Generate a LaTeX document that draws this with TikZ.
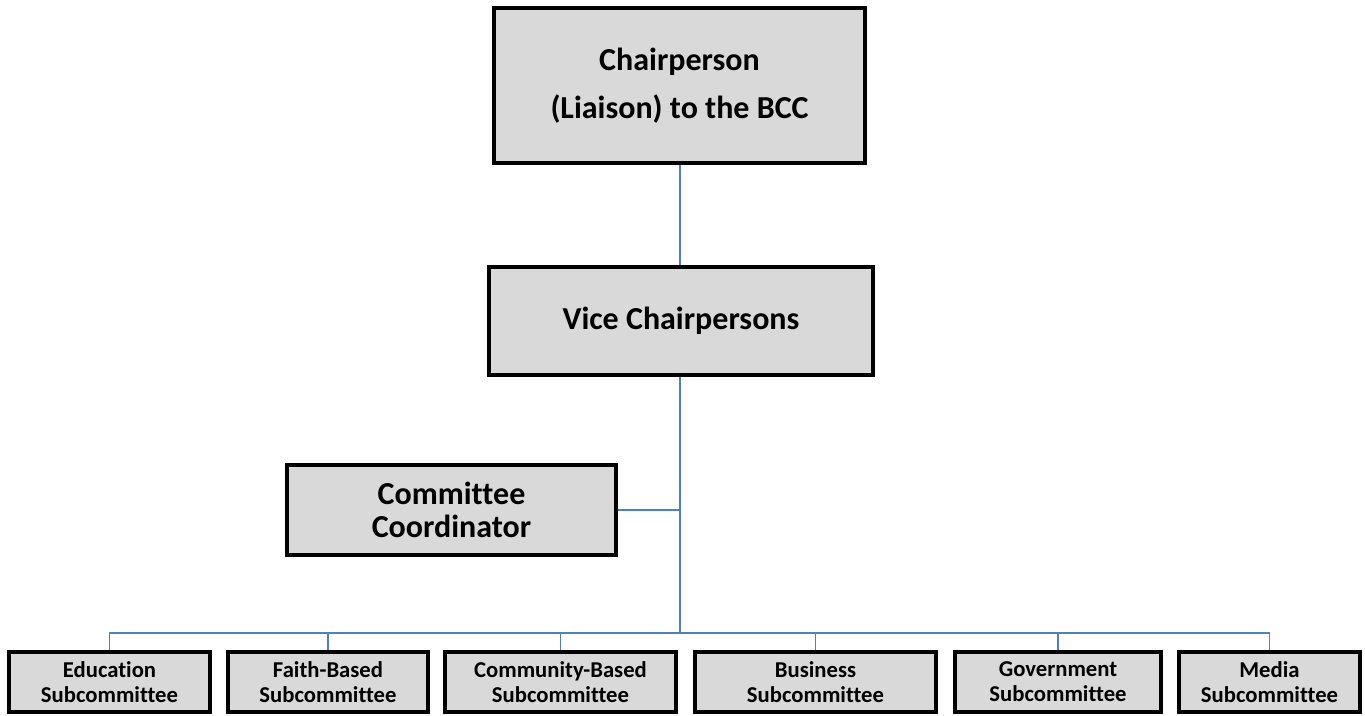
\documentclass[tikz,border=0pt]{standalone}
\usepackage{fontspec}
\setmainfont{Carlito}[Ligatures=NoCommon]
\usepackage{tikz}
\definecolor{boxGray}{RGB}{217,217,217}
\definecolor{linkBlue}{RGB}{79,129,189}
\newcommand{\subheight}{45pt}
\usetikzlibrary{calc,positioning}
\tikzset{
  x=0.75pt,y=-0.75pt,
  box/.style={draw=black,fill=boxGray,shape=rectangle,line width=3pt,align=center,inner sep=0pt,font=\bfseries},
  bigbox/.style={box,font=\bfseries\fontsize{24}{36}\selectfont},
  midbox/.style={box,font=\bfseries\fontsize{24}{25}\selectfont},
  subbox/.style={box,minimum height=\subheight,font=\bfseries\fontsize{17}{18.75}\selectfont},
  link/.style={draw=linkBlue,line width=2.2pt},
  buslink/.style={draw=linkBlue,line width=1.4pt},
}
\begin{document}
\begin{tikzpicture}
  \useasboundingbox (0,0) rectangle (1365,715);
  \node (chair) [bigbox,minimum width=278pt,minimum height=116pt] at (679.5,85.5) {Chairperson\\(Liaison) to the BCC};
  \node (vice) [bigbox,minimum width=288pt,minimum height=81pt] at (681,321) {Vice Chairpersons};
  \node (coord) [midbox,minimum width=247pt,minimum height=67.5pt] at (451.5,510) {Committee\\Coordinator};
  % subcommittees
  \node (edu) [subbox,minimum width=150.75pt] at (109.5,682) {Education\\Subcommittee};
  \node (faith) [subbox,minimum width=150pt] at (328,682) {Faith-Based\\Subcommittee};
  \node (comm) [subbox,minimum width=173.25pt] at (560.5,682) {Community-Based\\Subcommittee};
  \node (busi) [subbox,minimum width=180.75pt] at (815.5,682) {Business\\Subcommittee};
  \node (gov) [subbox,minimum width=154.5pt] at (1058,682) {Government\\Subcommittee};
  \node (media) [subbox,minimum width=135.75pt] at (1269.5,682) {Media\\Subcommittee};
  \coordinate (hub) at (680,633);
  \path [link] (chair.south -| hub) -- (vice.north -| hub);
  \path [link] (vice.south -| hub) -- (hub);
  \path [buslink] (coord.east) -- (coord.east -| hub);
  \foreach \n in {edu,faith,comm,busi,gov,media}
    \path [buslink] (\n.north) |- (hub);
\end{tikzpicture}
\end{document}
